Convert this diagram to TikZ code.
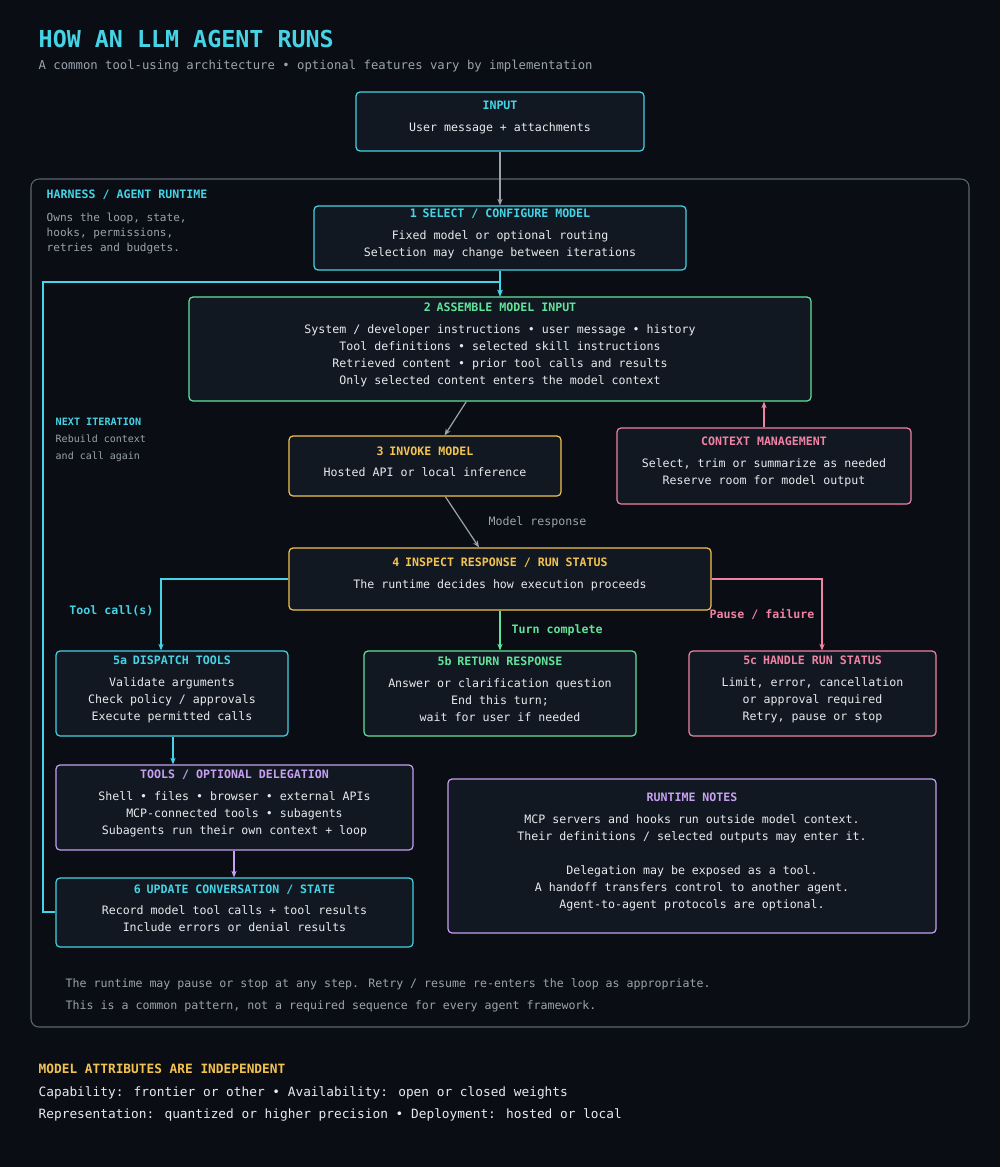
\documentclass[tikz,border=0pt]{standalone}
\usepackage{fontspec}
\setmainfont{DejaVu Sans Mono}
\usetikzlibrary{positioning, fit, arrows.meta}

\definecolor{bgc}{HTML}{0A0D13}
\definecolor{boxc}{HTML}{111821}
\definecolor{cyanc}{HTML}{45D3E6}
\definecolor{greenc}{HTML}{62E39C}
\definecolor{yellowc}{HTML}{F3C24F}
\definecolor{pinkc}{HTML}{F082A4}
\definecolor{purplec}{HTML}{C7A0F2}
\definecolor{grayc}{HTML}{9AA3AE}
\definecolor{framec}{HTML}{5C6670}
\definecolor{textc}{HTML}{E8EAED}

\newcommand{\btitle}[2]{{\color{#1}\bfseries #2}\\[3.6pt]}

\begin{document}
\begin{tikzpicture}[
    x=0.75pt, y=-0.75pt,
    box/.style={draw=#1, fill=boxc, rounded corners=3pt, line width=0.9pt,
        inner sep=0pt, align=center, text=textc, font=\fontsize{8.7}{12.75}\selectfont},
    lbl/.style={font=\fontsize{8.7}{12.75}\selectfont\bfseries, text=#1},
    note/.style={font=\fontsize{8.3}{11.2}\selectfont, text=grayc, align=left, anchor=north west},
    flow/.style={line width=0.9pt, draw=#1, -{Stealth[length=5pt,width=4pt]}}
]
\useasboundingbox[fill=bgc] (0,0) rectangle (1000,1167);

% Heading
\node[anchor=west, text=cyanc, font=\fontsize{17.5}{20}\selectfont\bfseries] (title) at (34,39) {HOW AN LLM AGENT RUNS};
\node[anchor=west, text=grayc, font=\fontsize{9.2}{11}\selectfont] (subtitle) at (34,66) {A common tool-using architecture • optional features vary by implementation};

% Harness frame
\node[draw=framec, rounded corners=6pt, line width=0.8pt, inner sep=0pt, fit={(31,179) (969,1027)}] (harness) {};
\node[anchor=west, lbl=cyanc] (hlabel) at (42,195) {HARNESS / AGENT RUNTIME};
\node[note] (hnote) at (42,208) {Owns the loop, state,\\hooks, permissions,\\retries and budgets.};
\node[anchor=west, font=\fontsize{7.6}{10}\selectfont\bfseries, text=cyanc] (iter) at (51,422) {NEXT ITERATION};
\node[note, font=\fontsize{7.5}{12.75}\selectfont] (iternote) at (51,430) {Rebuild context\\and call again};

% Boxes
\node[box=cyanc, fit={(356,92) (644,151)}] (input) {\btitle{cyanc}{INPUT}User message + attachments};
\node[box=cyanc, fit={(314,206) (686,270)}] (select) {\btitle{cyanc}{1\enspace SELECT / CONFIGURE MODEL}Fixed model or optional routing\\Selection may change between iterations};
\node[box=greenc, fit={(189,297) (811,401)}] (assemble) {\btitle{greenc}{2\enspace ASSEMBLE MODEL INPUT}System / developer instructions • user message • history\\Tool definitions • selected skill instructions\\Retrieved content • prior tool calls and results\\Only selected content enters the model context};
\node[box=yellowc, fit={(289,436) (561,496)}] (invoke) {\btitle{yellowc}{3\enspace INVOKE MODEL}Hosted API or local inference};
\node[box=pinkc, fit={(617,428) (911,504)}] (ctx) {\btitle{pinkc}{CONTEXT MANAGEMENT}Select, trim or summarize as needed\\Reserve room for model output};
\node[box=yellowc, fit={(289,548) (711,610)}] (inspect) {\btitle{yellowc}{4\enspace INSPECT RESPONSE / RUN STATUS}The runtime decides how execution proceeds};
\node[box=cyanc, fit={(56,651) (288,736)}] (dispatch) {\btitle{cyanc}{5a\enspace DISPATCH TOOLS}Validate arguments\\Check policy / approvals\\Execute permitted calls};
\node[box=greenc, fit={(364,651) (636,736)}] (ret) {\btitle{greenc}{5b\enspace RETURN RESPONSE}Answer or clarification question\\End this turn;\\wait for user if needed};
\node[box=pinkc, fit={(689,651) (936,736)}] (status) {\btitle{pinkc}{5c\enspace HANDLE RUN STATUS}Limit, error, cancellation\\or approval required\\Retry, pause or stop};
\node[box=purplec, fit={(56,765) (413,850)}] (tools) {\btitle{purplec}{TOOLS / OPTIONAL DELEGATION}Shell • files • browser • external APIs\\MCP-connected tools • subagents\\Subagents run their own context + loop};
\node[box=purplec, fit={(448,779) (936,933)}] (notes) {\btitle{purplec}{RUNTIME NOTES}MCP servers and hooks run outside model context.\\Their definitions / selected outputs may enter it.\\[12.75pt]Delegation may be exposed as a tool.\\A handoff transfers control to another agent.\\Agent-to-agent protocols are optional.};
\node[box=cyanc, fit={(56,878) (413,947)}] (update) {\btitle{cyanc}{6\enspace UPDATE CONVERSATION / STATE}Record model tool calls + tool results\\Include errors or denial results};

% Loop corners
\coordinate (lp1) at (43,912);
\coordinate (lp2) at (43,282);
\coordinate (lp3) at (500,282);

% Connectors
\draw[flow=grayc] (input) -- (select);
\draw[flow=cyanc] (select) -- (assemble);
\draw[flow=cyanc] (update.west |- lp1) -- (lp1) -- (lp2) -- (lp3) -- (assemble);
\draw[flow=grayc] (assemble) -- (invoke);
\draw[flow=pinkc] (ctx.north -| 764,0) -- (assemble.south -| 764,0);
\draw[flow=grayc] (invoke) -- node[right=16pt, text=grayc, font=\fontsize{8.7}{11}\selectfont] {Model response} (inspect);
\draw[flow=cyanc] (inspect.west) -| node[pos=0.72, left=2pt, lbl=cyanc] {Tool call(s)} (dispatch.north -| 161,0);
\draw[flow=greenc] (inspect) -- node[pos=0.5, right=5pt, lbl=greenc] {Turn complete} (ret);
\draw[flow=pinkc] (inspect.east) -| node[pos=0.75, left=2pt, lbl=pinkc] {Pause / failure} (status.north -| 822,0);
\draw[flow=cyanc] (dispatch.south -| 173,0) -- (tools.north -| 173,0);
\draw[flow=purplec] (tools.south -| 234,0) -- (update.north -| 234,0);

% Footnotes
\node[anchor=west, text=grayc, font=\fontsize{8.7}{11}\selectfont] (foot1) at (61,984) {The runtime may pause or stop at any step. Retry / resume re-enters the loop as appropriate.};
\node[anchor=west, text=grayc, font=\fontsize{8.7}{11}\selectfont] (foot2) at (61,1006) {This is a common pattern, not a required sequence for every agent framework.};

% Model attributes
\node[anchor=west, lbl=yellowc, font=\fontsize{9.6}{12}\selectfont\bfseries] (attr) at (34,1069) {MODEL ATTRIBUTES ARE INDEPENDENT};
\node[anchor=west, text=textc, font=\fontsize{9.6}{12}\selectfont] (attr1) at (34,1093) {Capability: frontier or other • Availability: open or closed weights};
\node[anchor=west, text=textc, font=\fontsize{9.6}{12}\selectfont] (attr2) at (34,1115) {Representation: quantized or higher precision • Deployment: hosted or local};
\end{tikzpicture}
\end{document}
